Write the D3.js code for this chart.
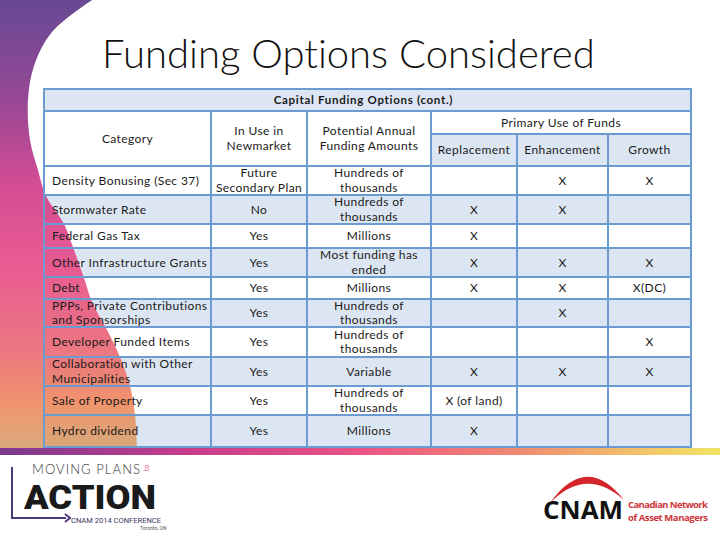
<!DOCTYPE html>
<html>
<head>
<meta charset="utf-8">
<script src="https://cdn.jsdelivr.net/npm/d3@7"></script>
<style>
  body { margin: 0; background: #fff; }
  svg { display: block; }
  text { font-variant-ligatures: none; }
</style>
</head>
<body>
<script>
// ---- data ----
const categories = [
  "Density Bonusing (Sec 37)", "Stormwater Rate", "Federal Gas Tax",
  "Other Infrastructure Grants", "Debt", "PPPs, Private Contributions\nand Sponsorships",
  "Developer Funded Items", "Collaboration with Other\nMunicipalities",
  "Sale of Property", "Hydro dividend"
];
const inUse = ["Future\nSecondary Plan", "No", "Yes", "Yes", "Yes", "Yes", "Yes", "Yes", "Yes", "Yes"];
const amounts = [
  "Hundreds of\nthousands", "Hundreds of\nthousands", "Millions", "Most funding has\nended",
  "Millions", "Hundreds of\nthousands", "Hundreds of\nthousands", "Variable",
  "Hundreds of\nthousands", "Millions"
];
const replacement = ["", "X", "X", "X", "X", "", "", "X", "X (of land)", "X"];
const enhancement = ["X", "X", "", "X", "X", "X", "", "X", "", ""];
const growth = ["X", "", "", "X", "X(DC)", "", "X", "X", "", ""];

const tableTitle = "Capital Funding Options (cont.)";
const headers = ["Category", "In Use in\nNewmarket", "Potential Annual\nFunding Amounts"];
const useGroup = "Primary Use of Funds";
const useHeaders = ["Replacement", "Enhancement", "Growth"];

// ---- layout ----
const W = 720, H = 540;
const colEdges = [44, 211, 307, 431, 517, 608, 691];
const rowHeights = [29, 29, 24, 29, 22, 28, 30, 29, 29, 32];
const titleTop = 89, headTop = 111, subTop = 134, bodyTop = 166;
const blue = "#dce6f2", line = "#6b9bd1";
const font = "Lato, 'Open Sans', sans-serif";

const svg = d3.select("body").append("svg").attr("width", W).attr("height", H);
const defs = svg.append("defs");

const dg = defs.append("linearGradient").attr("id", "deco")
  .attr("x1", 0).attr("y1", 0).attr("x2", 0).attr("y2", 1);
[[0, "#5c3b8b"], [0.22, "#8e3a8e"], [0.42, "#d2408c"], [0.6, "#e8508a"],
 [0.78, "#ea6c78"], [0.9, "#f08c62"], [1, "#d8a472"]]
  .forEach(s => dg.append("stop").attr("offset", s[0]).attr("stop-color", s[1]));

const bg = defs.append("linearGradient").attr("id", "bar")
  .attr("x1", 0).attr("y1", 0).attr("x2", 1).attr("y2", 0);
[[0, "#7a3a8e"], [0.25, "#c43c8c"], [0.5, "#ea5486"], [0.72, "#f08a70"], [0.88, "#f2c06a"], [1, "#f2e466"]]
  .forEach(s => bg.append("stop").attr("offset", s[0]).attr("stop-color", s[1]));

// row scale: index -> top y
const rowTops = d3.cumsum([bodyTop].concat(rowHeights.slice(0, -1)));
const yRow = d3.scaleOrdinal().domain(d3.range(categories.length)).range(Array.from(rowTops));
const bottom = bodyTop + d3.sum(rowHeights);

// ---- title ----
svg.append("text").attr("x", 102).attr("y", 68)
  .attr("font-family", font).attr("font-weight", 300).attr("font-size", 40)
  .attr("fill", "#111").text("Funding Options Considered");

// ---- cell fills ----
const fills = svg.append("g");
fills.append("rect").attr("x", colEdges[0]).attr("y", titleTop)
  .attr("width", colEdges[6] - colEdges[0]).attr("height", headTop - titleTop).attr("fill", blue);
fills.append("rect").attr("x", colEdges[0]).attr("y", headTop)
  .attr("width", colEdges[6] - colEdges[0]).attr("height", bodyTop - headTop).attr("fill", "#fff");
fills.append("rect").attr("x", colEdges[3]).attr("y", subTop)
  .attr("width", colEdges[6] - colEdges[3]).attr("height", bodyTop - subTop).attr("fill", blue);
fills.selectAll(".row").data(categories).enter().append("rect")
  .attr("x", colEdges[0]).attr("y", (d, i) => yRow(i))
  .attr("width", colEdges[6] - colEdges[0]).attr("height", (d, i) => rowHeights[i])
  .attr("fill", (d, i) => i % 2 ? blue : "#fff");

// ---- decoration ----
const decoPts = [[92, 0], [52, 32], [34, 66], [28, 100], [30, 140], [38, 170], [46, 196],
  [64, 224], [74, 250], [84, 278], [92, 302], [106, 328], [120, 357], [130, 386], [135, 415], [137, 448]];
svg.append("path")
  .attr("d", d3.line().curve(d3.curveCatmullRom)(decoPts).replace(/^M/, "M0,0L") + "L0,448Z")
  .attr("fill", "url(#deco)").attr("opacity", 0.93);

svg.append("rect").attr("x", 0).attr("y", 448).attr("width", W).attr("height", 7).attr("fill", "url(#bar)");

// ---- grid lines ----
const grid = svg.append("g").attr("stroke", line).attr("stroke-width", 2).attr("fill", "none");
const hLines = [[titleTop, 0, 6], [headTop, 0, 6], [subTop, 3, 6], [bodyTop, 0, 6]];
rowTops.forEach(y => hLines.push([y, 0, 6]));
hLines.push([bottom, 0, 6]);
hLines.forEach(h => grid.append("line")
  .attr("x1", colEdges[h[1]] - 1).attr("x2", colEdges[h[2]] + 1).attr("y1", h[0]).attr("y2", h[0]));
colEdges.forEach((x, j) => {
  const top = (j === 0 || j === 6) ? titleTop : (j === 4 || j === 5) ? subTop : headTop;
  grid.append("line").attr("x1", x).attr("x2", x).attr("y1", top).attr("y2", bottom);
});

// ---- text ----
const txt = svg.append("g").attr("font-family", font).attr("font-size", 12)
  .attr("letter-spacing", 0.4).attr("fill", "#1a1a1a");
function multi(str, x, cy, anchor, opts) {
  const lines = str.split("\n");
  const lh = 14.5;
  const t = txt.append("text").attr("text-anchor", anchor);
  lines.forEach((l, k) => t.append("tspan").attr("x", x)
    .attr("y", cy + (k - (lines.length - 1) / 2) * lh).attr("dy", "0.35em").text(l));
  if (opts) Object.entries(opts).forEach(([k, v]) => t.attr(k, v));
  return t;
}
const mid = j => (colEdges[j] + colEdges[j + 1]) / 2;

multi(tableTitle, (colEdges[0] + colEdges[6]) / 2 - 4, (titleTop + headTop) / 2, "middle",
  { "font-weight": 700, "font-size": 11.5, "letter-spacing": 0.7 });
headers.forEach((h, j) => multi(h, mid(j), (headTop + bodyTop) / 2, "middle"));
multi(useGroup, (colEdges[3] + colEdges[6]) / 2, (headTop + subTop) / 2, "middle");
useHeaders.forEach((h, j) => multi(h, mid(j + 3), (subTop + bodyTop) / 2, "middle"));

categories.forEach((c, i) => {
  const cy = yRow(i) + rowHeights[i] / 2;
  multi(c, colEdges[0] + 8, cy, "start");
  multi(inUse[i], mid(1), cy, "middle");
  multi(amounts[i], mid(2), cy, "middle");
  [replacement, enhancement, growth].forEach((s, j) => {
    if (s[i]) multi(s[i], mid(j + 3), cy, "middle");
  });
});

// ---- footer logos ----
const lg = svg.append("g");
lg.append("path").attr("d", "M12,467V518H66").attr("stroke", "#4b3b7a").attr("stroke-width", 2).attr("fill", "none");
lg.append("path").attr("d", "M65,514L70,518L65,522").attr("stroke", "#4b3b7a").attr("stroke-width", 2).attr("fill", "none");
lg.append("text").attr("x", 32).attr("y", 474).attr("font-family", "Lato, sans-serif").attr("font-weight", 300)
  .attr("font-size", 13).attr("fill", "#333").attr("textLength", 108).text("MOVING PLANS");
lg.append("text").attr("x", 0).attr("y", 0).attr("transform", "translate(149,468) rotate(-90)")
  .attr("font-family", "Lato, sans-serif").attr("font-size", 7).attr("fill", "#e0508a").attr("text-anchor", "middle").text("to");
lg.append("text").attr("x", 24).attr("y", 509).attr("font-family", "Roboto, sans-serif").attr("font-weight", 900)
  .attr("font-size", 34).attr("fill", "#1a1a1a").attr("textLength", 132).attr("lengthAdjust", "spacingAndGlyphs").text("ACTION");
lg.append("text").attr("x", 71).attr("y", 523).attr("font-family", "Roboto, sans-serif").attr("font-size", 8)
  .attr("fill", "#3e3560").attr("textLength", 90).attr("lengthAdjust", "spacingAndGlyphs").text("CNAM 2014 CONFERENCE");
lg.append("text").attr("x", 140).attr("y", 530).attr("font-family", "Roboto, sans-serif").attr("font-size", 5)
  .attr("fill", "#555").text("Toronto, ON");

const cn = svg.append("g");
cn.append("path").attr("d", "M550,503 Q586,452 624,500 Q586,466 550,503Z").attr("fill", "#d3252b");
cn.append("text").attr("x", 543).attr("y", 519).attr("font-family", "'Open Sans', sans-serif").attr("font-weight", 700)
  .attr("font-size", 25).attr("fill", "#111").attr("textLength", 80).attr("lengthAdjust", "spacingAndGlyphs").text("CNAM");
cn.append("text").attr("x", 628).attr("y", 508).attr("font-family", "'Open Sans', sans-serif").attr("font-weight", 700)
  .attr("font-size", 9.5).attr("fill", "#d0343a").attr("textLength", 80).text("Canadian Network");
cn.append("text").attr("x", 628).attr("y", 521).attr("font-family", "'Open Sans', sans-serif").attr("font-weight", 700)
  .attr("font-size", 9.5).attr("fill", "#d0343a").attr("textLength", 80).text("of Asset Managers");
</script>
</body>
</html>
